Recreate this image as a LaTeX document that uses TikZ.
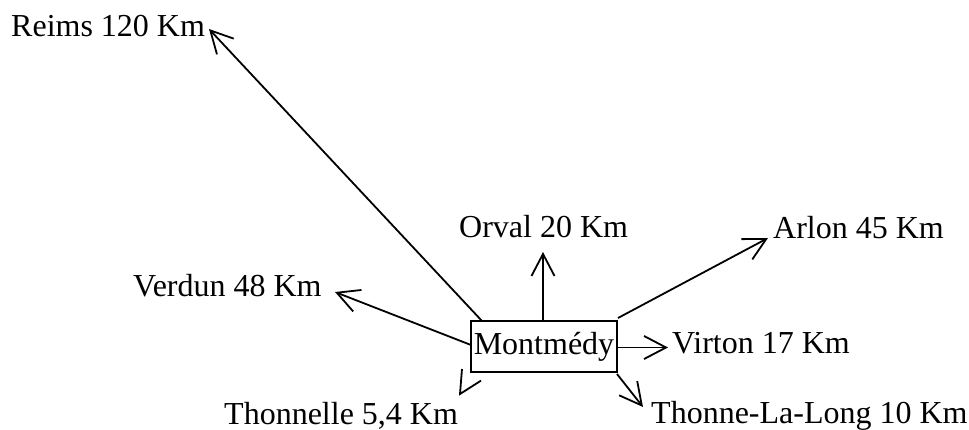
\documentclass[tikz,border=0pt]{standalone}
\usepackage{fontspec}
\setmainfont{Liberation Serif}
\usetikzlibrary{arrows.meta}
\begin{document}
\begin{tikzpicture}[x=1pt,y=-1pt,
  lbl/.style={anchor=base west,inner sep=0pt,font=\fontsize{32}{38}\selectfont},
  arr/.style={-{Straight Barb[length=22pt,width=23pt]},line width=1.8pt},
  box/.style={draw,line width=1.8pt,minimum width=146pt,minimum height=51pt,inner sep=0pt,font=\fontsize{32}{38}\selectfont}]
\useasboundingbox (0,0) rectangle (969,429);
\node[box] (m) at (544,346.5) {Montmédy};
\node[lbl] (reims) at (11,36) {Reims 120 Km};
\node[lbl] (orval) at (459,237) {Orval 20 Km};
\node[lbl] (arlon) at (773,238) {Arlon 45 Km};
\node[lbl] (verdun) at (133,296) {Verdun 48 Km};
\node[lbl] (virton) at (672,353) {Virton 17 Km};
\node[lbl] (thonnelle) at (224,424) {Thonnelle 5,4 Km};
\node[lbl] (tll) at (651,423) {Thonne-La-Long 10 Km};
\coordinate (sReims) at (482,321);
\coordinate (tReims) at (209,29);
\coordinate (sOrval) at (543,321);
\coordinate (tOrval) at (543,252);
\coordinate (sArlon) at (618,318);
\coordinate (tArlon) at (768,238);
\coordinate (sVerdun) at (471,345);
\coordinate (tVerdun) at (335,292);
\coordinate (sVirton) at (617,347.5);
\coordinate (tVirton) at (668,347.5);
\coordinate (sTll) at (617,374);
\coordinate (tTll) at (643,407);
\coordinate (thTip) at (460,394);
\coordinate (thA) at (481,380.6);
\coordinate (thB) at (462,369);
\draw[arr] (sReims) -- (tReims);
\draw[arr] (sOrval) -- (tOrval);
\draw[arr] (sArlon) -- (tArlon);
\draw[arr] (sVerdun) -- (tVerdun);
\draw[arr] (sVirton) -- (tVirton);
\draw[arr] (sTll) -- (tTll);
\draw[line width=1.8pt] (thA) -- (thTip) -- (thB);
\end{tikzpicture}
\end{document}
